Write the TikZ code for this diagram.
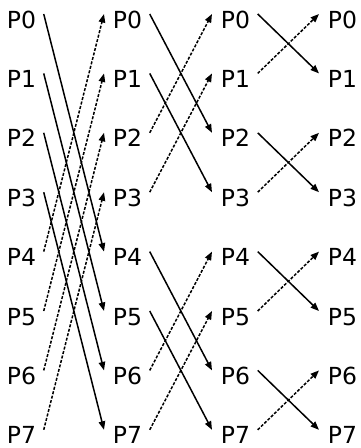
\documentclass[tikz,border=0pt]{standalone}
\usepackage{fontspec}
\setmainfont{DejaVu Sans}
\usetikzlibrary{arrows.meta}
\newcommand\myconn[3]{\draw[#1] ([xshift=7.5pt,yshift=14pt]#2.base east) -- ([xshift=-8.7pt,yshift=14pt]#3.base west);}
\begin{document}
\begin{tikzpicture}[x=1pt,y=-1pt,
  lbl/.style={inner sep=0pt, anchor=base west, font=\fontsize{23.5}{28}\selectfont},
  sarrow/.style={line width=1.5pt, -{Triangle[length=8.5pt,width=6.5pt]}},
  darrow/.style={sarrow, dash pattern=on 3pt off 1.6pt}]
\useasboundingbox (0,0) rectangle (361,448);
\foreach \c/\x in {0/6.7,1/112.7,2/220.7,3/327.7}
  \foreach \i in {0,...,7}
    \node[lbl] (c\c p\i) at (\x, {28+59.4*\i}) {P\i};
% stage 1
\foreach \a/\b in {0/4,1/5,2/6,3/7} {
  \myconn{sarrow}{c0p\a}{c1p\b}
  \myconn{darrow}{c0p\b}{c1p\a}
}
% stage 2
\foreach \a/\b in {0/2,1/3,4/6,5/7} {
  \myconn{sarrow}{c1p\a}{c2p\b}
  \myconn{darrow}{c1p\b}{c2p\a}
}
% stage 3
\foreach \a/\b in {0/1,2/3,4/5,6/7} {
  \myconn{sarrow}{c2p\a}{c3p\b}
  \myconn{darrow}{c2p\b}{c3p\a}
}
\end{tikzpicture}
\end{document}
